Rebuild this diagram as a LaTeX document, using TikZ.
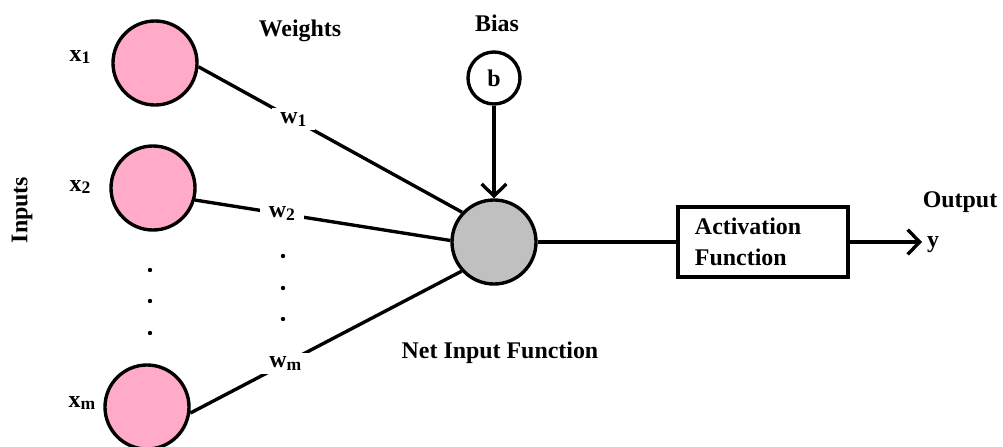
\documentclass[tikz,border=0pt]{standalone}
\usepackage{fontspec}
\setmainfont{Liberation Serif}
\usetikzlibrary{arrows.meta}
\definecolor{inpink}{RGB}{255,170,200}
\definecolor{netgray}{RGB}{192,192,192}
% index set slightly below the baseline, word-processor style
\newcommand\idx[1]{\raisebox{-0.12em}{\fontsize{12.5}{12.5}\selectfont #1}}
\begin{document}
\begin{tikzpicture}[x=0.025cm,y=-0.025cm,
  lbl/.style={font=\fontsize{17}{20}\selectfont\bfseries, inner sep=0pt},
  inunit/.style={circle, draw, line width=2.4pt, fill=inpink, minimum size=2.1cm, inner sep=0pt},
  netunit/.style={circle, draw, line width=2.4pt, fill=netgray, minimum size=2.1cm, inner sep=0pt},
  biasunit/.style={circle, draw, line width=2.4pt, fill=white, minimum size=1.3cm, inner sep=0pt,
    font=\fontsize{17}{20}\selectfont\bfseries},
  actbox/.style={rectangle, draw, line width=2.4pt, minimum width=4.25cm, minimum height=1.75cm,
    text width=3.4cm, align=left, inner xsep=0.425cm, inner ysep=0pt,
    font=\fontsize{17}{22}\selectfont\bfseries},
  conn/.style={line width=2.4pt},
  wlab/.style={lbl, fill=white, inner xsep=0.22cm, inner ysep=0.1cm},
  barb/.style={line width=2.4pt, -{Straight Barb[length=0.3cm, width=0.62cm, line width=2.4pt]}},
  dot/.style={circle, fill=black, minimum size=0.11cm, inner sep=0pt}
]
\useasboundingbox (0,0) rectangle (1003,446);

% input units
\node[inunit] (x1) at (155,63) {};
\node[inunit] (x2) at (153,188) {};
\node[inunit] (xm) at (147,407) {};

% summing unit and bias
\node[netunit] (net) at (494,242) {};
\node[biasunit] (b) at (494,78) {b};

% activation block
\node[actbox] (act) at (763,242) {Activation\\Function};
\coordinate (yout) at (922,242);

% labels
\node[lbl] (lx1) at (80,57) {x\idx{1}};
\node[lbl] (lx2) at (80,187) {x\idx{2}};
\node[lbl] (lxm) at (82,403) {x\idx{m}};
\node[lbl, rotate=90] (inputs) at (22,210) {Inputs};
\node[lbl] (weights) at (300,31) {Weights};
\node[lbl] (bias) at (497,23) {Bias};
\node[lbl] (netlab) at (500,353) {Net Input Function};
\node[lbl] (output) at (960,202) {Output};
\node[lbl] (ylab) at (933,245) {y};

% ellipses
\node[dot] (d1) at (150,270) {};
\node[dot] (d2) at (150,301) {};
\node[dot] (d3) at (150,333) {};
\node[dot] (e1) at (283,256) {};
\node[dot] (e2) at (283,288) {};
\node[dot] (e3) at (283,319) {};

% weighted connections
\draw[conn] (x1.-5) -- node[wlab, pos=0.36] {w\idx{1}} (net.137);
\draw[conn] (x2.-16) -- node[wlab, pos=0.34] {w\idx{2}} (net.178);
\draw[conn] (xm.-8) -- node[wlab, pos=0.35] {w\idx{m}} (net.222);

% bias, activation and output
\draw[barb] (b.south) -- (net.north);
\draw[conn] (net.east) -- (act.west);
\draw[barb] (act.east) -- (yout);
\end{tikzpicture}
\end{document}
